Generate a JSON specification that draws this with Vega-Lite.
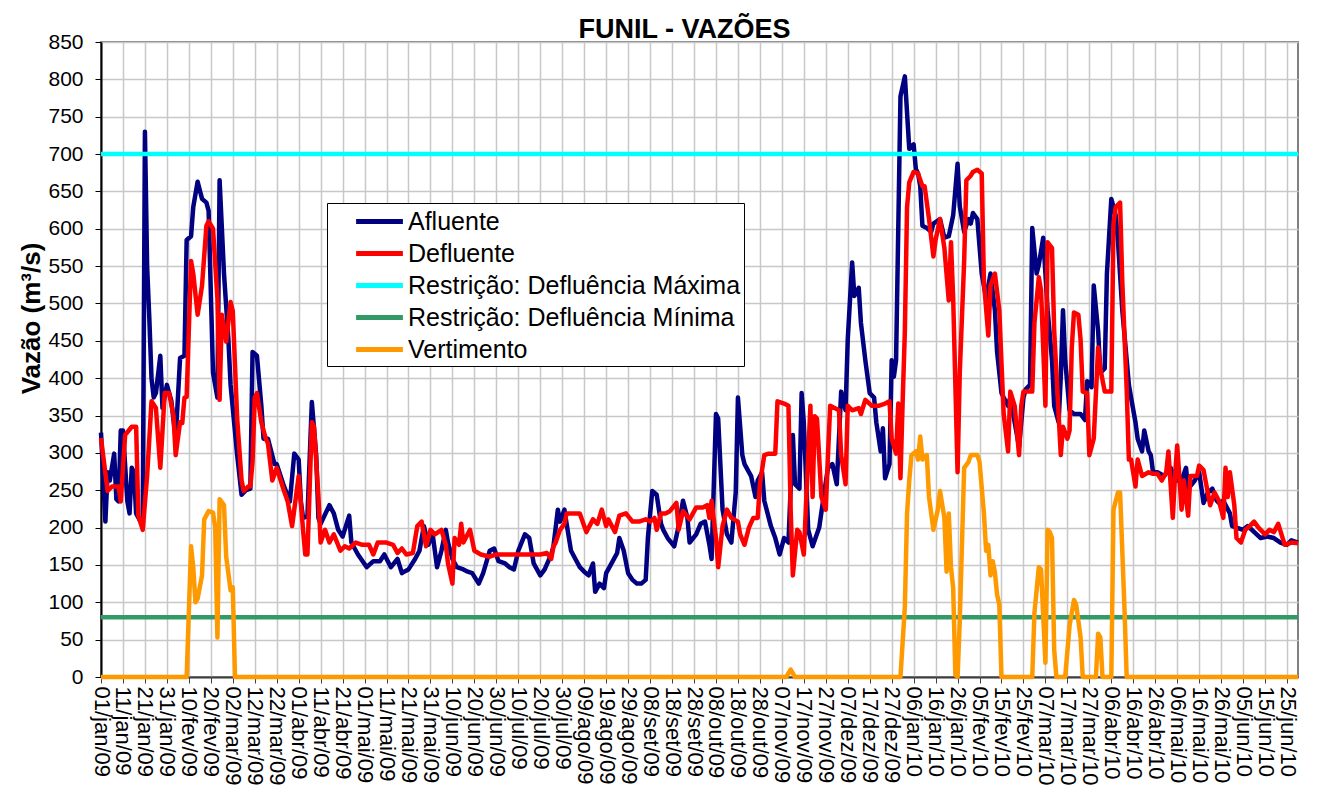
{
  "$schema": "https://vega.github.io/schema/vega-lite/v6.json",
  "width": 1197,
  "height": 635,
  "autosize": {"type": "none"},
  "padding": {"left": 101, "top": 42, "right": 22, "bottom": 117},
  "background": "white",
  "title": {"text": "FUNIL - VAZÕES", "fontSize": 27, "fontWeight": "bold", "font": "Liberation Sans", "anchor": "middle", "frame": "group", "offset": 3, "dx": -15, "dy": 16, "color": "black"},
  "datasets": {
    "afl": [
      {"d":"2009-01-01","q":327},{"d":"2009-01-03","q":208},{"d":"2009-01-04","q":274},{"d":"2009-01-05","q":263},{"d":"2009-01-07","q":299},{"d":"2009-01-08","q":238},{"d":"2009-01-09","q":235},{"d":"2009-01-10","q":330},{"d":"2009-01-11","q":330},{"d":"2009-01-13","q":235},{"d":"2009-01-14","q":219},{"d":"2009-01-15","q":280},{"d":"2009-01-16","q":274},{"d":"2009-01-17","q":219},{"d":"2009-01-19","q":208},{"d":"2009-01-20","q":205},{"d":"2009-01-21","q":730},{"d":"2009-01-22","q":550},{"d":"2009-01-23","q":480},{"d":"2009-01-24","q":400},{"d":"2009-01-25","q":374},{"d":"2009-01-26","q":380},{"d":"2009-01-28","q":430},{"d":"2009-01-29","q":360},{"d":"2009-01-31","q":391},
      {"d":"2009-02-02","q":370},{"d":"2009-02-04","q":319},{"d":"2009-02-06","q":427},{"d":"2009-02-08","q":430},{"d":"2009-02-09","q":585},{"d":"2009-02-11","q":590},{"d":"2009-02-12","q":629},{"d":"2009-02-14","q":663},{"d":"2009-02-16","q":640},{"d":"2009-02-18","q":635},{"d":"2009-02-19","q":624},{"d":"2009-02-21","q":407},{"d":"2009-02-23","q":374},{"d":"2009-02-24","q":665},{"d":"2009-02-26","q":540},{"d":"2009-02-28","q":452},
      {"d":"2009-03-01","q":391},{"d":"2009-03-04","q":297},{"d":"2009-03-06","q":244},{"d":"2009-03-08","q":250},{"d":"2009-03-10","q":252},{"d":"2009-03-11","q":435},{"d":"2009-03-13","q":430},{"d":"2009-03-15","q":363},{"d":"2009-03-16","q":319},{"d":"2009-03-18","q":319},{"d":"2009-03-21","q":285},{"d":"2009-03-22","q":285},{"d":"2009-03-25","q":258},{"d":"2009-03-28","q":235},{"d":"2009-03-30","q":299},
      {"d":"2009-04-01","q":291},{"d":"2009-04-02","q":235},{"d":"2009-04-03","q":213},{"d":"2009-04-05","q":215},{"d":"2009-04-07","q":368},{"d":"2009-04-09","q":296},{"d":"2009-04-10","q":213},{"d":"2009-04-11","q":205},{"d":"2009-04-15","q":230},{"d":"2009-04-17","q":219},{"d":"2009-04-19","q":197},{"d":"2009-04-21","q":188},{"d":"2009-04-24","q":216},{"d":"2009-04-25","q":180},{"d":"2009-04-28","q":164},
      {"d":"2009-05-02","q":147},{"d":"2009-05-05","q":155},{"d":"2009-05-08","q":155},{"d":"2009-05-10","q":164},{"d":"2009-05-13","q":147},{"d":"2009-05-16","q":158},{"d":"2009-05-18","q":139},{"d":"2009-05-19","q":141},{"d":"2009-05-21","q":144},{"d":"2009-05-24","q":158},{"d":"2009-05-26","q":169},{"d":"2009-05-28","q":202},{"d":"2009-05-30","q":177},
      {"d":"2009-06-01","q":191},{"d":"2009-06-03","q":147},{"d":"2009-06-05","q":169},{"d":"2009-06-07","q":197},{"d":"2009-06-08","q":180},{"d":"2009-06-10","q":158},{"d":"2009-06-12","q":147},{"d":"2009-06-15","q":144},{"d":"2009-06-17","q":141},{"d":"2009-06-19","q":139},{"d":"2009-06-22","q":125},{"d":"2009-06-24","q":139},{"d":"2009-06-27","q":169},{"d":"2009-06-29","q":172},
      {"d":"2009-07-01","q":155},{"d":"2009-07-04","q":152},{"d":"2009-07-06","q":147},{"d":"2009-07-08","q":144},{"d":"2009-07-10","q":169},{"d":"2009-07-13","q":191},{"d":"2009-07-15","q":186},{"d":"2009-07-17","q":152},{"d":"2009-07-20","q":136},{"d":"2009-07-22","q":144},{"d":"2009-07-25","q":164},{"d":"2009-07-26","q":175},{"d":"2009-07-28","q":224},{"d":"2009-07-29","q":208},{"d":"2009-07-31","q":224},
      {"d":"2009-08-01","q":205},{"d":"2009-08-03","q":169},{"d":"2009-08-05","q":158},{"d":"2009-08-07","q":147},{"d":"2009-08-09","q":141},{"d":"2009-08-11","q":136},{"d":"2009-08-13","q":152},{"d":"2009-08-14","q":114},{"d":"2009-08-16","q":125},{"d":"2009-08-18","q":119},{"d":"2009-08-19","q":139},{"d":"2009-08-22","q":155},{"d":"2009-08-24","q":166},{"d":"2009-08-25","q":186},{"d":"2009-08-27","q":169},{"d":"2009-08-29","q":139},{"d":"2009-08-31","q":130},
      {"d":"2009-09-02","q":125},{"d":"2009-09-04","q":125},{"d":"2009-09-06","q":130},{"d":"2009-09-07","q":186},{"d":"2009-09-09","q":249},{"d":"2009-09-11","q":244},{"d":"2009-09-13","q":205},{"d":"2009-09-14","q":197},{"d":"2009-09-16","q":186},{"d":"2009-09-19","q":175},{"d":"2009-09-21","q":202},{"d":"2009-09-23","q":236},{"d":"2009-09-25","q":213},{"d":"2009-09-26","q":180},{"d":"2009-09-29","q":191},
      {"d":"2009-10-01","q":205},{"d":"2009-10-03","q":208},{"d":"2009-10-05","q":177},{"d":"2009-10-06","q":158},{"d":"2009-10-08","q":352},{"d":"2009-10-09","q":346},{"d":"2009-10-11","q":224},{"d":"2009-10-13","q":191},{"d":"2009-10-15","q":180},{"d":"2009-10-17","q":247},{"d":"2009-10-18","q":374},{"d":"2009-10-20","q":297},{"d":"2009-10-21","q":285},{"d":"2009-10-24","q":269},{"d":"2009-10-26","q":241},{"d":"2009-10-27","q":263},{"d":"2009-10-29","q":274},{"d":"2009-10-30","q":236},
      {"d":"2009-11-02","q":202},{"d":"2009-11-04","q":186},{"d":"2009-11-06","q":164},{"d":"2009-11-08","q":186},{"d":"2009-11-10","q":180},{"d":"2009-11-12","q":324},{"d":"2009-11-13","q":258},{"d":"2009-11-15","q":252},{"d":"2009-11-16","q":380},{"d":"2009-11-17","q":340},{"d":"2009-11-19","q":197},{"d":"2009-11-21","q":175},{"d":"2009-11-24","q":200},{"d":"2009-11-26","q":241},{"d":"2009-11-28","q":280},{"d":"2009-11-30","q":285},
      {"d":"2009-12-02","q":258},{"d":"2009-12-04","q":382},{"d":"2009-12-06","q":357},{"d":"2009-12-07","q":452},{"d":"2009-12-09","q":555},{"d":"2009-12-10","q":510},{"d":"2009-12-12","q":521},{"d":"2009-12-13","q":474},{"d":"2009-12-15","q":424},{"d":"2009-12-17","q":380},{"d":"2009-12-19","q":374},{"d":"2009-12-20","q":341},{"d":"2009-12-22","q":302},{"d":"2009-12-23","q":333},{"d":"2009-12-24","q":266},{"d":"2009-12-26","q":285},{"d":"2009-12-27","q":424},{"d":"2009-12-28","q":402},{"d":"2009-12-29","q":424},{"d":"2009-12-31","q":777},
      {"d":"2010-01-02","q":804},{"d":"2010-01-04","q":707},{"d":"2010-01-06","q":713},{"d":"2010-01-07","q":680},{"d":"2010-01-08","q":674},{"d":"2010-01-09","q":657},{"d":"2010-01-10","q":604},{"d":"2010-01-12","q":601},{"d":"2010-01-14","q":596},{"d":"2010-01-15","q":607},{"d":"2010-01-18","q":613},{"d":"2010-01-20","q":588},{"d":"2010-01-22","q":590},{"d":"2010-01-24","q":618},{"d":"2010-01-26","q":687},{"d":"2010-01-27","q":630},{"d":"2010-01-29","q":596},{"d":"2010-01-31","q":613},
      {"d":"2010-02-01","q":607},{"d":"2010-02-02","q":621},{"d":"2010-02-04","q":613},{"d":"2010-02-06","q":540},{"d":"2010-02-08","q":507},{"d":"2010-02-10","q":540},{"d":"2010-02-12","q":491},{"d":"2010-02-13","q":435},{"d":"2010-02-15","q":380},{"d":"2010-02-16","q":374},{"d":"2010-02-18","q":363},{"d":"2010-02-19","q":374},{"d":"2010-02-21","q":341},{"d":"2010-02-23","q":308},{"d":"2010-02-25","q":374},{"d":"2010-02-26","q":385},{"d":"2010-02-28","q":391},
      {"d":"2010-03-01","q":601},{"d":"2010-03-03","q":540},{"d":"2010-03-04","q":552},{"d":"2010-03-06","q":588},{"d":"2010-03-07","q":540},{"d":"2010-03-08","q":491},{"d":"2010-03-10","q":424},{"d":"2010-03-11","q":363},{"d":"2010-03-13","q":341},{"d":"2010-03-14","q":402},{"d":"2010-03-15","q":491},{"d":"2010-03-16","q":424},{"d":"2010-03-18","q":357},{"d":"2010-03-20","q":352},{"d":"2010-03-23","q":352},{"d":"2010-03-25","q":344},{"d":"2010-03-26","q":396},{"d":"2010-03-28","q":388},{"d":"2010-03-29","q":524},{"d":"2010-03-31","q":463},
      {"d":"2010-04-01","q":407},{"d":"2010-04-03","q":413},{"d":"2010-04-04","q":540},{"d":"2010-04-06","q":640},{"d":"2010-04-08","q":618},{"d":"2010-04-09","q":585},{"d":"2010-04-11","q":491},{"d":"2010-04-14","q":391},{"d":"2010-04-15","q":374},{"d":"2010-04-17","q":341},{"d":"2010-04-18","q":319},{"d":"2010-04-20","q":302},{"d":"2010-04-21","q":330},{"d":"2010-04-23","q":302},{"d":"2010-04-24","q":297},{"d":"2010-04-25","q":274},{"d":"2010-04-27","q":274},{"d":"2010-04-30","q":269},
      {"d":"2010-05-03","q":280},{"d":"2010-05-05","q":263},{"d":"2010-05-08","q":263},{"d":"2010-05-10","q":280},{"d":"2010-05-11","q":252},{"d":"2010-05-14","q":263},{"d":"2010-05-16","q":274},{"d":"2010-05-18","q":233},{"d":"2010-05-20","q":247},{"d":"2010-05-22","q":252},{"d":"2010-05-24","q":236},{"d":"2010-05-25","q":233},{"d":"2010-05-27","q":236},{"d":"2010-05-30","q":219},{"d":"2010-05-31","q":202},
      {"d":"2010-06-02","q":200},{"d":"2010-06-05","q":197},{"d":"2010-06-07","q":202},{"d":"2010-06-09","q":197},{"d":"2010-06-13","q":186},{"d":"2010-06-16","q":188},{"d":"2010-06-19","q":186},{"d":"2010-06-22","q":180},{"d":"2010-06-25","q":177},{"d":"2010-06-27","q":183},{"d":"2010-06-30","q":180}
    ],
    "def": [
      {"d":"2009-01-01","q":320},{"d":"2009-01-04","q":249},{"d":"2009-01-06","q":255},{"d":"2009-01-09","q":255},{"d":"2009-01-10","q":235},{"d":"2009-01-12","q":324},{"d":"2009-01-15","q":335},{"d":"2009-01-17","q":335},{"d":"2009-01-18","q":216},{"d":"2009-01-20","q":197},{"d":"2009-01-22","q":269},{"d":"2009-01-24","q":369},{"d":"2009-01-26","q":360},{"d":"2009-01-28","q":280},{"d":"2009-01-30","q":380},
      {"d":"2009-02-01","q":380},{"d":"2009-02-03","q":350},{"d":"2009-02-04","q":297},{"d":"2009-02-06","q":341},{"d":"2009-02-07","q":340},{"d":"2009-02-08","q":374},{"d":"2009-02-09","q":375},{"d":"2009-02-11","q":557},{"d":"2009-02-12","q":540},{"d":"2009-02-14","q":485},{"d":"2009-02-16","q":524},{"d":"2009-02-18","q":604},{"d":"2009-02-19","q":610},{"d":"2009-02-21","q":600},{"d":"2009-02-23","q":507},{"d":"2009-02-24","q":371},{"d":"2009-02-25","q":485},{"d":"2009-02-27","q":449},
      {"d":"2009-03-01","q":502},{"d":"2009-03-02","q":490},{"d":"2009-03-04","q":346},{"d":"2009-03-06","q":263},{"d":"2009-03-07","q":249},{"d":"2009-03-09","q":255},{"d":"2009-03-10","q":255},{"d":"2009-03-11","q":288},{"d":"2009-03-12","q":374},{"d":"2009-03-13","q":380},{"d":"2009-03-15","q":341},{"d":"2009-03-17","q":319},{"d":"2009-03-18","q":313},{"d":"2009-03-20","q":263},{"d":"2009-03-22","q":280},{"d":"2009-03-25","q":252},{"d":"2009-03-27","q":235},{"d":"2009-03-29","q":202},{"d":"2009-03-30","q":224},
      {"d":"2009-04-01","q":269},{"d":"2009-04-03","q":197},{"d":"2009-04-04","q":164},{"d":"2009-04-05","q":164},{"d":"2009-04-07","q":341},{"d":"2009-04-08","q":335},{"d":"2009-04-10","q":241},{"d":"2009-04-11","q":180},{"d":"2009-04-13","q":197},{"d":"2009-04-15","q":180},{"d":"2009-04-17","q":191},{"d":"2009-04-20","q":169},{"d":"2009-04-22","q":175},{"d":"2009-04-24","q":172},{"d":"2009-04-27","q":180},{"d":"2009-04-30","q":177},
      {"d":"2009-05-03","q":177},{"d":"2009-05-05","q":164},{"d":"2009-05-07","q":180},{"d":"2009-05-11","q":180},{"d":"2009-05-14","q":177},{"d":"2009-05-16","q":166},{"d":"2009-05-18","q":172},{"d":"2009-05-20","q":164},{"d":"2009-05-23","q":166},{"d":"2009-05-25","q":202},{"d":"2009-05-27","q":208},{"d":"2009-05-29","q":175},{"d":"2009-05-31","q":197},
      {"d":"2009-06-02","q":191},{"d":"2009-06-05","q":197},{"d":"2009-06-07","q":177},{"d":"2009-06-08","q":152},{"d":"2009-06-10","q":125},{"d":"2009-06-11","q":186},{"d":"2009-06-13","q":177},{"d":"2009-06-14","q":205},{"d":"2009-06-15","q":180},{"d":"2009-06-18","q":197},{"d":"2009-06-20","q":169},{"d":"2009-06-23","q":164},{"d":"2009-06-27","q":161},{"d":"2009-06-30","q":164},
      {"d":"2009-07-06","q":164},{"d":"2009-07-14","q":164},{"d":"2009-07-20","q":164},{"d":"2009-07-23","q":166},{"d":"2009-07-25","q":158},{"d":"2009-07-26","q":175},{"d":"2009-07-27","q":180},{"d":"2009-07-29","q":197},{"d":"2009-07-31","q":205},
      {"d":"2009-08-01","q":219},{"d":"2009-08-07","q":219},{"d":"2009-08-09","q":202},{"d":"2009-08-10","q":194},{"d":"2009-08-13","q":211},{"d":"2009-08-15","q":205},{"d":"2009-08-17","q":224},{"d":"2009-08-19","q":202},{"d":"2009-08-20","q":211},{"d":"2009-08-23","q":194},{"d":"2009-08-25","q":216},{"d":"2009-08-28","q":219},{"d":"2009-08-31","q":208},
      {"d":"2009-09-03","q":208},{"d":"2009-09-06","q":211},{"d":"2009-09-08","q":208},{"d":"2009-09-10","q":213},{"d":"2009-09-11","q":197},{"d":"2009-09-13","q":219},{"d":"2009-09-15","q":219},{"d":"2009-09-17","q":222},{"d":"2009-09-20","q":233},{"d":"2009-09-21","q":197},{"d":"2009-09-23","q":222},{"d":"2009-09-26","q":211},{"d":"2009-09-29","q":227},
      {"d":"2009-10-02","q":227},{"d":"2009-10-04","q":230},{"d":"2009-10-05","q":213},{"d":"2009-10-06","q":236},{"d":"2009-10-08","q":186},{"d":"2009-10-09","q":147},{"d":"2009-10-11","q":202},{"d":"2009-10-13","q":224},{"d":"2009-10-15","q":213},{"d":"2009-10-18","q":208},{"d":"2009-10-19","q":191},{"d":"2009-10-21","q":177},{"d":"2009-10-23","q":200},{"d":"2009-10-25","q":213},{"d":"2009-10-27","q":213},{"d":"2009-10-28","q":258},{"d":"2009-10-30","q":297},
      {"d":"2009-11-01","q":299},{"d":"2009-11-04","q":299},{"d":"2009-11-05","q":369},{"d":"2009-11-08","q":366},{"d":"2009-11-10","q":363},{"d":"2009-11-11","q":224},{"d":"2009-11-12","q":136},{"d":"2009-11-14","q":197},{"d":"2009-11-15","q":194},{"d":"2009-11-17","q":164},{"d":"2009-11-19","q":297},{"d":"2009-11-20","q":363},{"d":"2009-11-21","q":241},{"d":"2009-11-22","q":349},{"d":"2009-11-23","q":346},{"d":"2009-11-25","q":241},{"d":"2009-11-27","q":224},{"d":"2009-11-28","q":297},{"d":"2009-11-29","q":363},
      {"d":"2009-12-01","q":360},{"d":"2009-12-03","q":357},{"d":"2009-12-04","q":297},{"d":"2009-12-06","q":258},{"d":"2009-12-07","q":363},{"d":"2009-12-09","q":357},{"d":"2009-12-12","q":360},{"d":"2009-12-13","q":352},{"d":"2009-12-15","q":371},{"d":"2009-12-18","q":363},{"d":"2009-12-21","q":363},{"d":"2009-12-24","q":366},{"d":"2009-12-26","q":369},{"d":"2009-12-27","q":319},{"d":"2009-12-29","q":299},{"d":"2009-12-30","q":366},{"d":"2009-12-31","q":266},
      {"d":"2010-01-01","q":369},{"d":"2010-01-02","q":463},{"d":"2010-01-03","q":629},{"d":"2010-01-04","q":662},{"d":"2010-01-06","q":676},{"d":"2010-01-08","q":674},{"d":"2010-01-10","q":657},{"d":"2010-01-11","q":657},{"d":"2010-01-13","q":613},{"d":"2010-01-15","q":563},{"d":"2010-01-16","q":585},{"d":"2010-01-18","q":613},{"d":"2010-01-20","q":574},{"d":"2010-01-22","q":504},{"d":"2010-01-23","q":582},{"d":"2010-01-24","q":507},{"d":"2010-01-26","q":274},{"d":"2010-01-27","q":407},{"d":"2010-01-29","q":557},{"d":"2010-01-30","q":665},
      {"d":"2010-02-01","q":671},{"d":"2010-02-02","q":676},{"d":"2010-02-04","q":679},{"d":"2010-02-06","q":674},{"d":"2010-02-07","q":529},{"d":"2010-02-09","q":457},{"d":"2010-02-10","q":524},{"d":"2010-02-12","q":540},{"d":"2010-02-14","q":491},{"d":"2010-02-15","q":420},{"d":"2010-02-16","q":352},{"d":"2010-02-18","q":302},{"d":"2010-02-19","q":382},{"d":"2010-02-21","q":363},{"d":"2010-02-23","q":297},{"d":"2010-02-24","q":363},{"d":"2010-02-25","q":382},
      {"d":"2010-03-01","q":382},{"d":"2010-03-02","q":474},{"d":"2010-03-04","q":535},{"d":"2010-03-05","q":518},{"d":"2010-03-07","q":363},{"d":"2010-03-08","q":582},{"d":"2010-03-10","q":574},{"d":"2010-03-11","q":463},{"d":"2010-03-13","q":352},{"d":"2010-03-14","q":297},{"d":"2010-03-15","q":335},{"d":"2010-03-17","q":319},{"d":"2010-03-18","q":330},{"d":"2010-03-19","q":441},{"d":"2010-03-20","q":488},{"d":"2010-03-22","q":485},{"d":"2010-03-23","q":452},{"d":"2010-03-24","q":382},{"d":"2010-03-26","q":380},{"d":"2010-03-27","q":297},{"d":"2010-03-29","q":319},{"d":"2010-03-31","q":441},
      {"d":"2010-04-01","q":413},{"d":"2010-04-03","q":382},{"d":"2010-04-06","q":382},{"d":"2010-04-07","q":607},{"d":"2010-04-08","q":629},{"d":"2010-04-10","q":635},{"d":"2010-04-11","q":529},{"d":"2010-04-13","q":385},{"d":"2010-04-14","q":291},{"d":"2010-04-15","q":291},{"d":"2010-04-17","q":255},{"d":"2010-04-18","q":291},{"d":"2010-04-20","q":269},{"d":"2010-04-23","q":274},{"d":"2010-04-25","q":272},{"d":"2010-04-27","q":272},{"d":"2010-04-29","q":263},
      {"d":"2010-05-01","q":274},{"d":"2010-05-02","q":302},{"d":"2010-05-04","q":213},{"d":"2010-05-05","q":269},{"d":"2010-05-06","q":310},{"d":"2010-05-08","q":224},{"d":"2010-05-09","q":263},{"d":"2010-05-11","q":216},{"d":"2010-05-12","q":269},{"d":"2010-05-15","q":269},{"d":"2010-05-16","q":283},{"d":"2010-05-18","q":277},{"d":"2010-05-21","q":230},{"d":"2010-05-23","q":247},{"d":"2010-05-25","q":236},{"d":"2010-05-27","q":213},{"d":"2010-05-28","q":280},{"d":"2010-05-29","q":241},{"d":"2010-05-30","q":274},
      {"d":"2010-06-01","q":230},{"d":"2010-06-02","q":186},{"d":"2010-06-04","q":180},{"d":"2010-06-06","q":197},{"d":"2010-06-08","q":202},{"d":"2010-06-10","q":208},{"d":"2010-06-12","q":200},{"d":"2010-06-15","q":191},{"d":"2010-06-17","q":197},{"d":"2010-06-19","q":194},{"d":"2010-06-21","q":205},{"d":"2010-06-23","q":186},{"d":"2010-06-24","q":177},{"d":"2010-06-27","q":180},{"d":"2010-06-30","q":179}
    ],
    "ver": [
      {"d":"2009-01-01","q":0},{"d":"2009-02-09","q":0},{"d":"2009-02-11","q":175},{"d":"2009-02-12","q":147},{"d":"2009-02-13","q":100},{"d":"2009-02-14","q":105},{"d":"2009-02-16","q":136},{"d":"2009-02-17","q":211},{"d":"2009-02-19","q":222},{"d":"2009-02-21","q":220},{"d":"2009-02-22","q":200},{"d":"2009-02-23","q":53},{"d":"2009-02-24","q":238},{"d":"2009-02-26","q":230},{"d":"2009-02-27","q":161},{"d":"2009-03-01","q":116},{"d":"2009-03-02","q":120},{"d":"2009-03-03","q":0},
      {"d":"2009-11-09","q":0},{"d":"2009-11-11","q":10},{"d":"2009-11-13","q":0},
      {"d":"2009-12-31","q":0},{"d":"2010-01-02","q":94},{"d":"2010-01-03","q":219},{"d":"2010-01-04","q":263},{"d":"2010-01-05","q":297},{"d":"2010-01-07","q":302},{"d":"2010-01-08","q":291},{"d":"2010-01-09","q":322},{"d":"2010-01-10","q":291},{"d":"2010-01-12","q":297},{"d":"2010-01-13","q":241},{"d":"2010-01-15","q":197},{"d":"2010-01-17","q":224},{"d":"2010-01-18","q":249},{"d":"2010-01-20","q":213},{"d":"2010-01-21","q":141},{"d":"2010-01-22","q":219},{"d":"2010-01-23","q":147},{"d":"2010-01-24","q":119},{"d":"2010-01-25","q":3},{"d":"2010-01-26","q":0},{"d":"2010-01-27","q":75},{"d":"2010-01-29","q":280},{"d":"2010-01-31","q":288},
      {"d":"2010-02-01","q":297},{"d":"2010-02-04","q":297},{"d":"2010-02-05","q":288},{"d":"2010-02-07","q":219},{"d":"2010-02-08","q":169},{"d":"2010-02-09","q":177},{"d":"2010-02-10","q":136},{"d":"2010-02-11","q":155},{"d":"2010-02-12","q":140},{"d":"2010-02-13","q":110},{"d":"2010-02-14","q":97},{"d":"2010-02-15","q":0},
      {"d":"2010-03-01","q":0},{"d":"2010-03-02","q":86},{"d":"2010-03-04","q":147},{"d":"2010-03-05","q":144},{"d":"2010-03-07","q":19},{"d":"2010-03-08","q":197},{"d":"2010-03-09","q":194},{"d":"2010-03-10","q":186},{"d":"2010-03-11","q":36},{"d":"2010-03-12","q":0},{"d":"2010-03-16","q":0},{"d":"2010-03-18","q":69},{"d":"2010-03-20","q":103},{"d":"2010-03-21","q":97},{"d":"2010-03-23","q":53},{"d":"2010-03-24","q":0},{"d":"2010-03-30","q":0},{"d":"2010-03-31","q":58},
      {"d":"2010-04-01","q":53},{"d":"2010-04-02","q":0},{"d":"2010-04-06","q":0},{"d":"2010-04-07","q":224},{"d":"2010-04-09","q":247},{"d":"2010-04-10","q":247},{"d":"2010-04-12","q":91},{"d":"2010-04-13","q":0},{"d":"2010-06-30","q":0}
    ],
    "max": [{"d":"2009-01-01","q":700},{"d":"2010-06-30","q":700}],
    "min": [{"d":"2009-01-01","q":80},{"d":"2010-06-30","q":80}]
  },
  "encoding": {
    "x": {"field": "d", "type": "temporal", "title": null,
      "scale": {"type": "utc", "domain": [{"year": 2009, "month": 1, "date": 1, "utc": true}, {"year": 2010, "month": 6, "date": 30, "utc": true}]},
      "axis": {"values": [1230768000000,1231632000000,1232496000000,1233360000000,1234224000000,1235088000000,1235952000000,1236816000000,1237680000000,1238544000000,1239408000000,1240272000000,1241136000000,1242000000000,1242864000000,1243728000000,1244592000000,1245456000000,1246320000000,1247184000000,1248048000000,1248912000000,1249776000000,1250640000000,1251504000000,1252368000000,1253232000000,1254096000000,1254960000000,1255824000000,1256688000000,1257552000000,1258416000000,1259280000000,1260144000000,1261008000000,1261872000000,1262736000000,1263600000000,1264464000000,1265328000000,1266192000000,1267056000000,1267920000000,1268784000000,1269648000000,1270512000000,1271376000000,1272240000000,1273104000000,1273968000000,1274832000000,1275696000000,1276560000000,1277424000000],
        "labelExpr": "utcFormat(datum.value, '%d/%b/%y')", "labelAngle": 90, "labelAlign": "left", "labelBaseline": "middle", "labelFontSize": 22, "labelPadding": 3, "tickSize": 6, "tickColor": "#404040", "domainColor": "#404040", "domainWidth": 2, "labelColor": "black", "labelOverlap": false, "labelFlush": false, "labelBound": false, "grid": true, "gridColor": "#c8c8c8", "gridWidth": 1.5}},
    "y": {"field": "q", "type": "quantitative", "title": "Vazão (m³/s)", "scale": {"domain": [0, 850], "nice": false},
      "axis": {"values": [0,50,100,150,200,250,300,350,400,450,500,550,600,650,700,750,800,850], "labelFontSize": 21, "labelPadding": 12, "tickSize": 6, "tickColor": "black", "domainColor": "black", "domainWidth": 2, "titleFontSize": 26, "titleFontWeight": "bold", "titlePadding": 3, "titleY": 276, "labelColor": "black", "titleColor": "black", "grid": true, "gridColor": "#c8c8c8", "gridWidth": 1.5}}
  },
  "layer": [
    {
      "data": {"name": "afl"},
      "mark": {"type": "line", "strokeWidth": 4.5, "strokeJoin": "round"},
      "encoding": {
        "color": {"datum": "Afluente", "type": "nominal",
          "scale": {"domain": ["Afluente", "Defluente", "Restrição: Defluência Máxima", "Restrição: Defluência Mínima", "Vertimento"], "range": ["#000080", "#ff0000", "#00ffff", "#339966", "#ff9900"]},
          "legend": {"orient": "none", "legendX": 226, "legendY": 161, "title": null, "symbolType": "M-1.8,0H1.8", "symbolSize": 676, "symbolStrokeWidth": 5, "labelFontSize": 25, "labelFont": "Liberation Sans", "labelColor": "black", "strokeColor": "black", "fillColor": "white", "padding": 3, "rowPadding": 3, "symbolOffset": 34, "labelOffset": 13, "labelLimit": 600}}
      }
    },
    {
      "data": {"name": "def"},
      "mark": {"type": "line", "strokeWidth": 4.5, "strokeJoin": "round"},
      "encoding": {"color": {"datum": "Defluente", "type": "nominal"}}
    },
    {
      "data": {"name": "max"},
      "mark": {"type": "line", "strokeWidth": 4.5},
      "encoding": {"color": {"datum": "Restrição: Defluência Máxima", "type": "nominal"}}
    },
    {
      "data": {"name": "min"},
      "mark": {"type": "line", "strokeWidth": 4.5},
      "encoding": {"color": {"datum": "Restrição: Defluência Mínima", "type": "nominal"}}
    },
    {
      "data": {"name": "ver"},
      "mark": {"type": "line", "strokeWidth": 4.5, "strokeJoin": "round"},
      "encoding": {"color": {"datum": "Vertimento", "type": "nominal"}}
    }
  ],
  "config": {
    "font": "Liberation Sans",
    "view": {"stroke": "#808080", "strokeWidth": 2},
    "locale": {
      "time": {
        "dateTime": "%A, %e de %B de %Y. %X",
        "date": "%d/%m/%Y",
        "time": "%H:%M:%S",
        "periods": ["AM", "PM"],
        "days": ["Domingo", "Segunda", "Terça", "Quarta", "Quinta", "Sexta", "Sábado"],
        "shortDays": ["Dom", "Seg", "Ter", "Qua", "Qui", "Sex", "Sáb"],
        "months": ["Janeiro", "Fevereiro", "Março", "Abril", "Maio", "Junho", "Julho", "Agosto", "Setembro", "Outubro", "Novembro", "Dezembro"],
        "shortMonths": ["jan", "fev", "mar", "abr", "mai", "jun", "jul", "ago", "set", "out", "nov", "dez"]
      }
    }
  }
}
